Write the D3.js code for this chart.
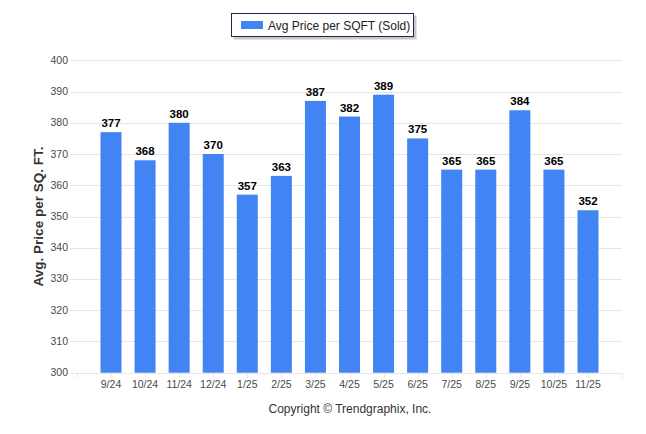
<!DOCTYPE html>
<html>
<head>
<meta charset="utf-8">
<script src="https://cdn.jsdelivr.net/npm/d3@7"></script>
<style>
  html, body { margin: 0; padding: 0; background: #fff; }
  svg { display: block; }
</style>
</head>
<body>
<svg id="chart" width="646" height="434"></svg>
<script>
const categories = ["9/24","10/24","11/24","12/24","1/25","2/25","3/25","4/25","5/25","6/25","7/25","8/25","9/25","10/25","11/25"];
const values = [377,368,380,370,357,363,387,382,389,375,365,365,384,365,352];
const yTicks = [300,310,320,330,340,350,360,370,380,390,400];
const seriesName = "Avg Price per SQFT (Sold)";
const yTitle = "Avg. Price per SQ. FT.";
const copyright = "Copyright \u00A9 Trendgraphix, Inc.";

const svg = d3.select("#chart");
const font = "'Liberation Sans', Arial, sans-serif";
const barColor = "#4284f3";

const plotLeft = 70, plotRight = 622;
const y = d3.scaleLinear().domain([300, 400]).range([372.7, 60.3]);
const x = d3.scalePoint().domain(categories).range([111, 588]);
const barW = 21;

// gridlines
svg.append("g").selectAll("line").data(yTicks).join("line")
  .attr("x1", plotLeft).attr("x2", plotRight)
  .attr("y1", d => Math.round(y(d)) + 0.5).attr("y2", d => Math.round(y(d)) + 0.5)
  .attr("stroke", "#e6e6e6").attr("stroke-width", 1);

// y tick labels
svg.append("g").selectAll("text").data(yTicks).join("text")
  .attr("x", 68).attr("y", d => y(d) + 3.5)
  .attr("text-anchor", "end")
  .attr("font-family", font).attr("font-size", 10.5)
  .attr("fill", "#4a4a4a")
  .text(d => d);

// x axis ticks (category centers plus edge slots)
const step = x.step();
const tickXs = [x(categories[0]) - step].concat(categories.map(c => x(c)), [x(categories[categories.length-1]) + step]);
svg.append("g").selectAll("line").data(tickXs).join("line")
  .attr("x1", d => Math.round(d) + 0.5).attr("x2", d => Math.round(d) + 0.5)
  .attr("y1", y(300)).attr("y2", y(300) + 5)
  .attr("stroke", "#e6e6e6");

// bars
svg.append("g").selectAll("rect").data(values).join("rect")
  .attr("x", (d, i) => x(categories[i]) - barW / 2)
  .attr("width", barW)
  .attr("y", d => y(d))
  .attr("height", d => y(300) - y(d))
  .attr("fill", barColor);

// value labels
svg.append("g").selectAll("text").data(values).join("text")
  .attr("x", (d, i) => x(categories[i]))
  .attr("y", d => y(d) - 5)
  .attr("text-anchor", "middle")
  .attr("font-family", font).attr("font-size", 11.5).attr("font-weight", "bold")
  .attr("fill", "#000")
  .text(d => d);

// x labels
svg.append("g").selectAll("text").data(categories).join("text")
  .attr("x", d => x(d))
  .attr("y", 388)
  .attr("text-anchor", "middle")
  .attr("font-family", font).attr("font-size", 10.5)
  .attr("fill", "#4a4a4a")
  .text(d => d);

// y title
svg.append("text")
  .attr("transform", "translate(43,216.5) rotate(-90)")
  .attr("text-anchor", "middle")
  .attr("font-family", font).attr("font-size", 13.5).attr("font-weight", "bold")
  .attr("fill", "#333")
  .text(yTitle);

// legend
const lg = svg.append("g");
lg.append("rect").attr("x", 233.5).attr("y", 15.5).attr("width", 183).attr("height", 24)
  .attr("fill", "#c8c8c8").attr("stroke", "none");
lg.append("rect").attr("x", 231.5).attr("y", 13.5).attr("width", 182).attr("height", 23)
  .attr("fill", "#fff").attr("stroke", "#1c2a4a").attr("stroke-width", 1);
lg.append("rect").attr("x", 241).attr("y", 21).attr("width", 22).attr("height", 8)
  .attr("fill", barColor);
lg.append("text").attr("x", 268).attr("y", 29.5)
  .attr("font-family", font).attr("font-size", 12)
  .attr("fill", "#222")
  .text(seriesName);

// copyright
svg.append("text")
  .attr("x", 350).attr("y", 413)
  .attr("text-anchor", "middle")
  .attr("font-family", font).attr("font-size", 12)
  .attr("fill", "#333")
  .text(copyright);
</script>
</body>
</html>
